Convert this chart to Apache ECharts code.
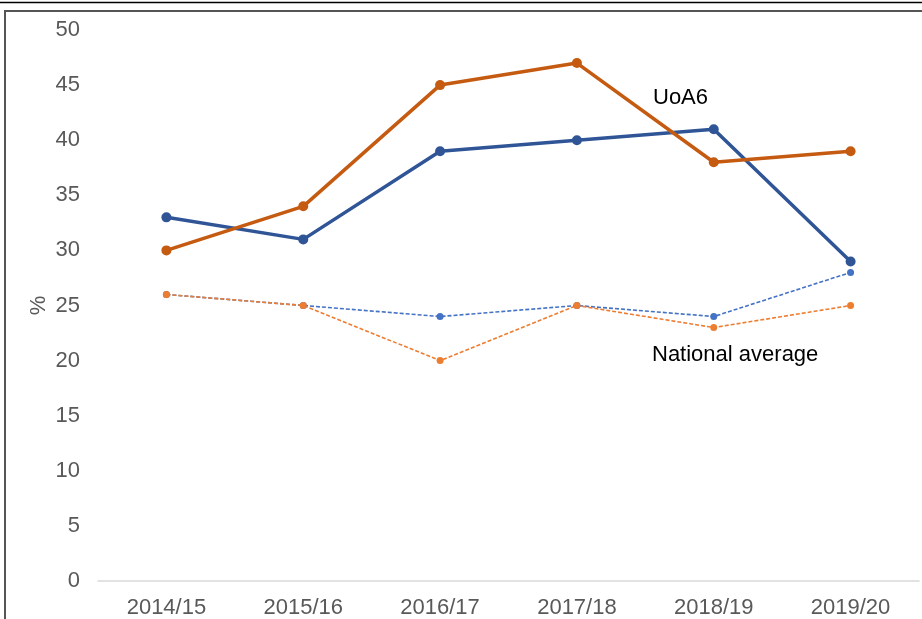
<!DOCTYPE html>
<html>
<head>
<meta charset="utf-8">
<style>
  html, body { margin: 0; padding: 0; background: #fff; }
  #chart { width: 922px; height: 619px; }
</style>
<script src="https://cdn.jsdelivr.net/npm/echarts@6/dist/echarts.min.js"></script>
</head>
<body>
<div id="chart"></div>
<script>
// Academic years on the category axis
const years = ['2014/15', '2015/16', '2016/17', '2017/18', '2018/19', '2019/20'];

// Percentages per year
const uoa6Orange = [30, 34, 45, 47, 38, 39];
const uoa6Blue = [33, 31, 39, 40, 41, 29];
const nationalBlue = [26, 25, 24, 25, 24, 28];
const nationalOrange = [26, 25, 20, 25, 23, 25];

// Annotation texts
const uoaLabel = 'UoA6';
const nationalLabel = 'National average';

const FONT = '"Liberation Sans", Arial, sans-serif';
const AXIS_GREY = '#595959';

const chart = echarts.init(document.getElementById('chart'), null, { renderer: 'canvas' });

chart.setOption({
  animation: false,
  backgroundColor: '#ffffff',
  grid: { left: 98, right: 3, top: 30, bottom: 36.5, containLabel: false },
  xAxis: {
    type: 'category',
    data: years,
    boundaryGap: true,
    axisLine: { show: true, lineStyle: { color: '#d9d9d9', width: 1.5 } },
    axisTick: { show: false },
    axisLabel: { color: AXIS_GREY, fontFamily: FONT, fontSize: 22, margin: 16 }
  },
  yAxis: {
    type: 'value',
    min: 0,
    max: 50,
    interval: 5,
    name: '%',
    nameLocation: 'middle',
    nameGap: 48,
    nameMoveOverlap: false,
    nameRotate: 90,
    nameTextStyle: { color: AXIS_GREY, fontFamily: FONT, fontSize: 22 },
    axisLine: { show: false },
    axisTick: { show: false },
    splitLine: { show: false },
    axisLabel: { color: AXIS_GREY, fontFamily: FONT, fontSize: 22, margin: 18 }
  },
  series: [
    {
      name: 'National (blue)',
      type: 'line',
      data: nationalBlue,
      symbol: 'circle',
      symbolSize: 7,
      lineStyle: { color: '#4472C4', width: 1.6, type: [4, 2] },
      itemStyle: { color: '#4472C4' },
      z: 2
    },
    {
      name: 'National (orange)',
      type: 'line',
      data: nationalOrange,
      symbol: 'circle',
      symbolSize: 7,
      lineStyle: { color: '#ED7D31', width: 1.6, type: [4, 2] },
      itemStyle: { color: '#ED7D31' },
      z: 2
    },
    {
      name: 'UoA6 (blue)',
      type: 'line',
      data: uoa6Blue,
      symbol: 'circle',
      symbolSize: 10,
      lineStyle: { color: '#2F5597', width: 3.5 },
      itemStyle: { color: '#2F5597' },
      z: 3
    },
    {
      name: 'UoA6 (orange)',
      type: 'line',
      data: uoa6Orange,
      symbol: 'circle',
      symbolSize: 10,
      lineStyle: { color: '#C55A11', width: 3.5 },
      itemStyle: { color: '#C55A11' },
      z: 4
    }
  ],
  graphic: [
    // double frame at the top and left edge
    { type: 'line', shape: { x1: 0, y1: 2.5, x2: 922, y2: 2.5 }, style: { stroke: '#000', lineWidth: 1.5 }, silent: true },
    { type: 'polyline', shape: { points: [[5, 619], [5, 11], [922, 11]] }, style: { stroke: '#555', lineWidth: 2, fill: null }, silent: true },
    { type: 'text', left: 653, top: 87, style: { text: uoaLabel, font: '22px ' + FONT, fill: '#000' }, silent: true },
    { type: 'text', left: 652, top: 344, style: { text: nationalLabel, font: '22px ' + FONT, fill: '#000' }, silent: true }
  ]
});
</script>
</body>
</html>
